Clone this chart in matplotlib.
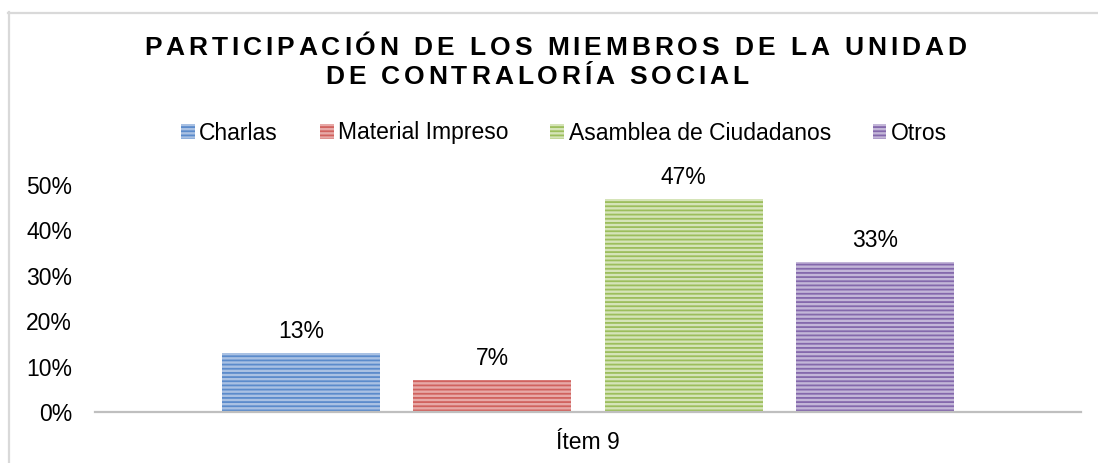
"""Bar chart: participación de los miembros de la unidad de contraloría social."""

import matplotlib
matplotlib.use("Agg")
import matplotlib.pyplot as plt
from matplotlib.lines import Line2D
from matplotlib.patches import Patch
from matplotlib.ticker import FuncFormatter

plt.rcParams["font.family"] = ["Liberation Sans", "DejaVu Sans"]
plt.rcParams["hatch.linewidth"] = 1.3

# data
categories = ["Ítem 9"]
series = ["Charlas", "Material Impreso", "Asamblea de Ciudadanos", "Otros"]
values = [13, 7, 47, 33]
y_ticks = [0, 10, 20, 30, 40, 50]
title_lines = ["PARTICIPACIÓN DE LOS MIEMBROS DE LA UNIDAD",
               "DE CONTRALORÍA SOCIAL"]

fills = ["#A9C1E3", "#E7A9A7", "#D5E4B8", "#C3B6D8"]
stripes = ["#5B8BCB", "#D0625E", "#9CBE5C", "#8468AC"]

W, H = 1098, 463
fig = plt.figure(figsize=(W / 100, H / 100), dpi=100, facecolor="white")
ax = fig.add_axes([95 / W, 1 - 412 / H, (1081 - 95) / W, (412 - 185) / H])

step = 191.5 / 986
width = 158 / 986
for i, (name, val) in enumerate(zip(series, values)):
    x = (i - 1.5) * step
    ax.bar(x, val, width=width, color=fills[i], edgecolor=stripes[i],
           hatch="----", linewidth=0, label=name)
    ax.text(x, val + 2.2, f"{val}%", ha="center", va="bottom",
            fontsize=16.5, color="#000000", clip_on=False)

ax.set_xlim(-0.5, 0.5)
ax.set_ylim(0, 50)
ax.set_yticks(y_ticks)
ax.yaxis.set_major_formatter(FuncFormatter(lambda v, _: f"{v:.0f}%"))
ax.set_xticks([0])
ax.set_xticklabels(categories)
ax.tick_params(axis="y", length=0, pad=16.5, labelsize=16.5)
ax.tick_params(axis="x", length=0, pad=14, labelsize=16.5)
for side in ["left", "right", "top"]:
    ax.spines[side].set_visible(False)
ax.spines["bottom"].set_color("#BFBFBF")
ax.spines["bottom"].set_linewidth(1.6)

handles = [Patch(facecolor=fills[i], edgecolor=stripes[i], hatch="----",
                 linewidth=0) for i in range(len(series))]
fig.legend(handles, series, loc="center", bbox_to_anchor=(564 / W, 1 - 133 / H),
           ncol=4, frameon=False, fontsize=16.5, handlelength=0.6,
           handleheight=0.6, handletextpad=0.2, columnspacing=1.82,
           borderpad=0)

# title with letter spacing, drawn char by char
renderer = fig.canvas.get_renderer()
spacing = None
for line, yc, xc in zip(title_lines, [48, 77], [555, 537]):
    texts = [fig.text(0, 1 - yc / H, ch, fontsize=19, fontweight="bold",
                      ha="left", va="center") for ch in line]
    widths = [t.get_window_extent(renderer).width for t in texts]
    if spacing is None:
        spacing = (822 - sum(widths)) / (len(texts) - 1)
    total = sum(widths) + spacing * (len(texts) - 1)
    x = xc - total / 2
    for t, w in zip(texts, widths):
        t.set_x(x / W)
        x += w + spacing

# chart frame (only top and left visible in the crop)
fig.add_artist(Line2D([8.5 / W, 8.5 / W], [1 - 12 / H, 0], color="#D9D9D9",
                      linewidth=1.6, transform=fig.transFigure))
fig.add_artist(Line2D([8 / W, 1], [1 - 12.5 / H, 1 - 12.5 / H], color="#D9D9D9",
                      linewidth=1.6, transform=fig.transFigure))

fig.savefig("out.png", dpi=100, facecolor="white")
